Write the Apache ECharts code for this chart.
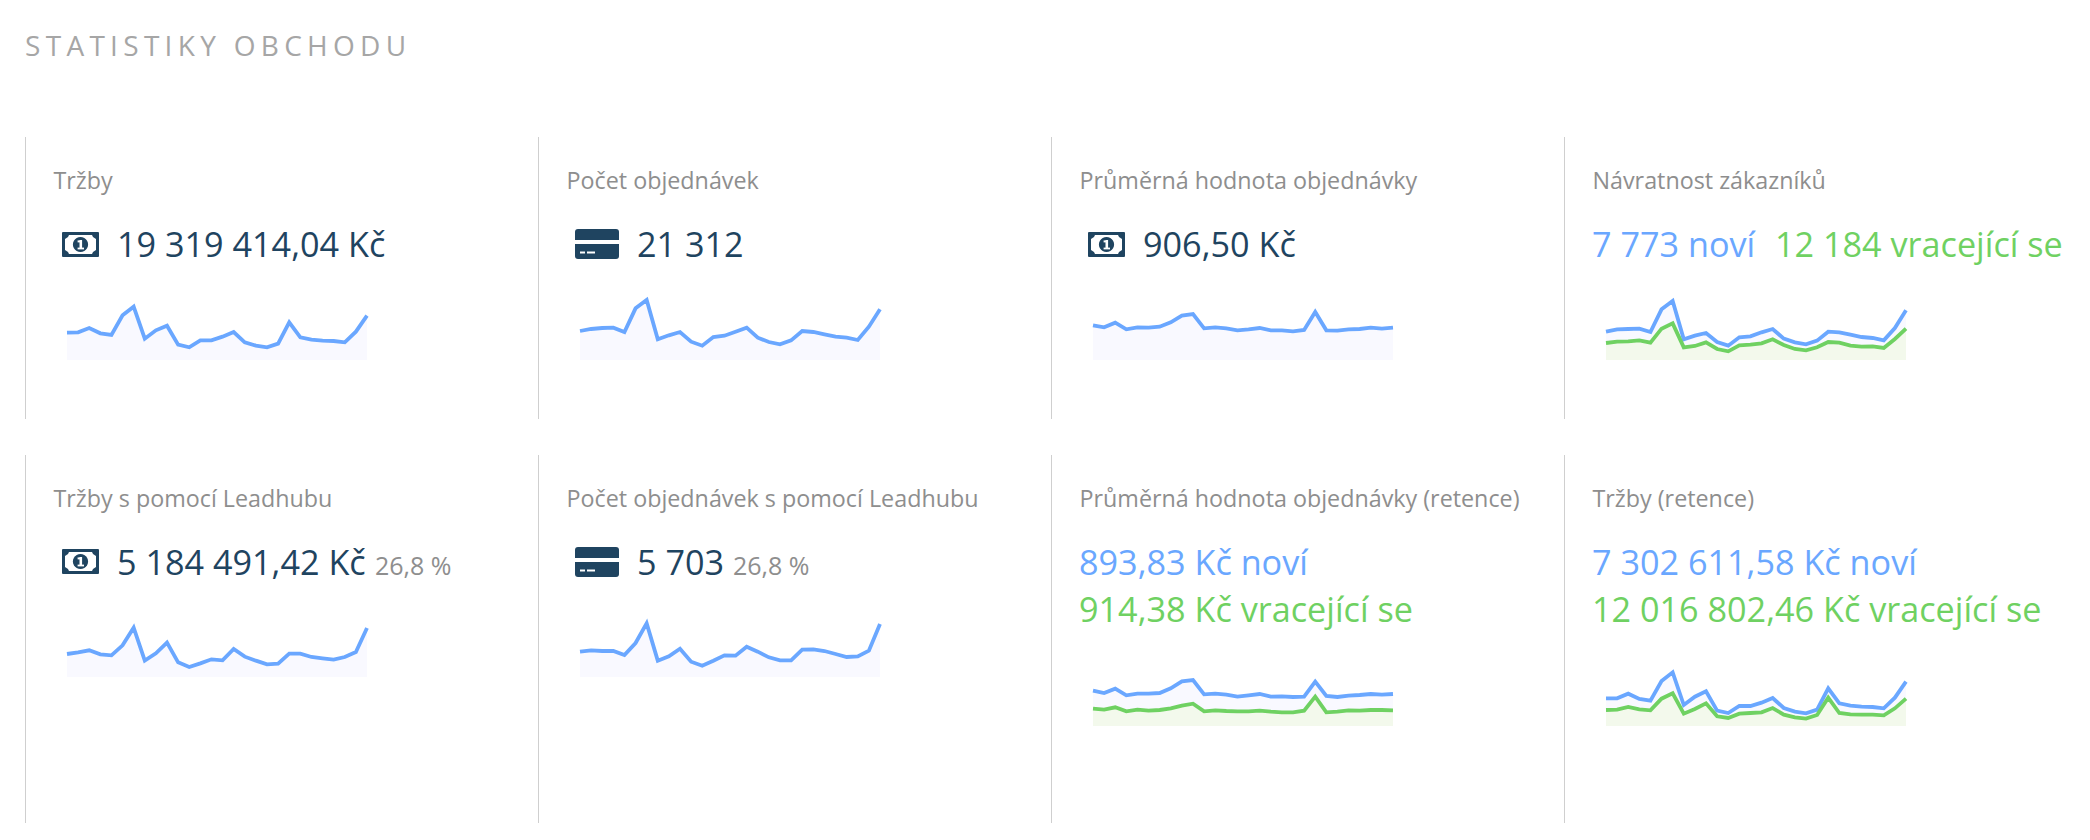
<!DOCTYPE html>
<html lang="cs">
<head>
<meta charset="utf-8">
<title>Statistiky obchodu</title>
<script src="https://cdn.jsdelivr.net/npm/echarts@6/dist/echarts.min.js"></script>
<style>
html,body{margin:0;padding:0;background:#fff;width:2090px;height:840px;overflow:hidden}
#heading{position:absolute;left:25px;top:26px;font:400 28px/38px "Open Sans",sans-serif;letter-spacing:5.3px;color:#a6a6a6;z-index:2}
#chart{position:absolute;left:0;top:0;width:2090px;height:840px}
</style>
</head>
<body>
<div id="heading">STATISTIKY OBCHODU</div>
<div id="chart"></div>
<script>
// Values, in relative units (one unit = 1/3 px of sparkline height).
const days = ["1","2","3","4","5","6","7","8","9","10","11","12","13","14","15","16","17","18","19","20","21","22","23","24","25","26","27","28"];

const trzby = [82,83,96,80,75,134,160,64,89,103,46,38,59,59,70,84,53,43,38,49,113,68,61,58,57,53,85,133];
const pocet = [87,93,96,97,84,155,180,62,74,84,55,43,69,73,85,97,67,54,47,59,87,84,77,70,67,60,100,152];
const prumer = [104,98,112,92,98,97,100,113,133,138,95,98,95,89,92,96,89,89,86,90,144,89,88,92,93,97,94,97];
const navratNovi = [85,92,93,94,84,152,177,62,73,81,54,43,68,71,83,93,64,53,47,58,85,83,76,69,66,59,96,149];
const navratVraceji = [51,55,56,59,52,94,110,38,42,53,33,26,44,46,50,62,45,33,29,38,54,52,43,40,41,36,63,94];
const trzbyLead = [69,74,80,68,65,95,148,49,71,103,44,30,41,53,50,84,61,49,38,40,70,70,60,56,52,60,75,147];
const pocetLead = [76,80,78,78,66,102,161,49,62,85,46,34,49,65,64,91,76,59,50,50,82,83,78,69,60,62,79,159];
const prumerRetNovi = [106,99,112,92,97,97,99,113,134,138,95,97,94,88,92,96,88,89,87,88,133,90,87,91,93,96,94,96];
const prumerRetVraceji = [52,49,56,44,49,46,48,53,61,67,44,47,45,44,44,46,43,41,41,46,88,41,43,47,46,48,48,47];
const trzbyRetNovi = [83,83,97,81,76,135,161,63,88,104,46,39,60,60,70,84,54,43,38,49,113,68,61,58,57,53,85,133];
const trzbyRetVraceji = [48,49,57,50,47,82,98,37,51,68,29,24,37,39,41,54,34,26,22,33,85,39,35,34,34,32,53,82];

const BLUE = '#6aa7ff', GREEN = '#6fd162', DARK = '#1f4460', GREY = '#8e8e8e', RULE = '#cfcfcf';
const FILL_BLUE = '#f9f9ff', FILL_GREEN = '#f3f9ec';
const FONT = '"Open Sans", sans-serif';

const cards = [
  {x:25.5, y0:137,  y1:419, lx:53.5,  ly:180, label:'Tržby', bottom:360, gx:67, series:[trzby]},
  {x:538.5,y0:137,  y1:419, lx:566.5, ly:180, label:'Počet objednávek', bottom:360, gx:580, series:[pocet]},
  {x:1051.5,y0:137, y1:419, lx:1079.5,ly:180, label:'Průměrná hodnota objednávky', bottom:360, gx:1093, series:[prumer]},
  {x:1564.5,y0:137, y1:419, lx:1592.5,ly:180, label:'Návratnost zákazníků', bottom:360, gx:1606, series:[navratNovi, navratVraceji]},
  {x:25.5, y0:455,  y1:823, lx:53.5,  ly:498, label:'Tržby s pomocí Leadhubu', bottom:677, gx:67, series:[trzbyLead]},
  {x:538.5,y0:455,  y1:823, lx:566.5, ly:498, label:'Počet objednávek s pomocí Leadhubu', bottom:677, gx:580, series:[pocetLead]},
  {x:1051.5,y0:455, y1:823, lx:1079.5,ly:498, label:'Průměrná hodnota objednávky (retence)', bottom:726, gx:1093, series:[prumerRetNovi, prumerRetVraceji]},
  {x:1564.5,y0:455, y1:823, lx:1592.5,ly:498, label:'Tržby (retence)', bottom:726, gx:1606, series:[trzbyRetNovi, trzbyRetVraceji]}
];

const values = [
  {x:117,y:243,t:'19 319 414,04 Kč',c:DARK},
  {x:637,y:243,t:'21 312',c:DARK},
  {x:1143,y:243,t:'906,50 Kč',c:DARK},
  {x:1592,y:243,t:'7 773 noví',c:BLUE},
  {x:1775,y:243,t:'12 184 vracející se',c:GREEN},
  {x:117,y:561,t:'5 184 491,42 Kč',c:DARK},
  {x:375,y:565,t:'26,8 %',c:GREY,s:25},
  {x:637,y:561,t:'5 703',c:DARK},
  {x:733,y:565,t:'26,8 %',c:GREY,s:25},
  {x:1079,y:561,t:'893,83 Kč noví',c:BLUE},
  {x:1079,y:608,t:'914,38 Kč vracející se',c:GREEN},
  {x:1592,y:561,t:'7 302 611,58 Kč noví',c:BLUE},
  {x:1592,y:608,t:'12 016 802,46 Kč vracející se',c:GREEN}
];

function money(x, y){
  return {type:'group', x, y, children:[
    {type:'rect', shape:{x:0,y:0,width:37,height:25,r:1}, style:{fill:DARK}},
    {type:'polygon', shape:{points:[[7,3],[30,3],[31,5],[34,7],[34,18],[31,20],[30,22],[7,22],[6,20],[3,18],[3,7],[6,5]]}, style:{fill:'#fff'}},
    {type:'circle', shape:{cx:18.5,cy:12.5,r:7.6}, style:{fill:DARK}},
    {type:'rect', shape:{x:17.5,y:8,width:2.6,height:9}, style:{fill:'#fff'}},
    {type:'rect', shape:{x:15.6,y:8.4,width:3,height:2}, style:{fill:'#fff'}},
    {type:'rect', shape:{x:15.6,y:15.6,width:6.4,height:1.8}, style:{fill:'#fff'}}
  ]};
}
function card(x, y){
  return {type:'group', x, y, children:[
    {type:'rect', shape:{x:0,y:0,width:44,height:11,r:[3,3,0,0]}, style:{fill:DARK}},
    {type:'rect', shape:{x:0,y:15,width:44,height:15,r:[0,0,3,3]}, style:{fill:DARK}},
    {type:'rect', shape:{x:5,y:22.5,width:5,height:2}, style:{fill:'#fff'}},
    {type:'rect', shape:{x:12,y:22.5,width:8,height:2}, style:{fill:'#fff'}}
  ]};
}

const graphic = [];
cards.forEach(c => {
  graphic.push({type:'line', shape:{x1:c.x,y1:c.y0,x2:c.x,y2:c.y1}, style:{stroke:RULE,lineWidth:1}});
  graphic.push({type:'text', x:c.lx, y:c.ly, style:{text:c.label, fill:GREY, font:'400 23.3px '+FONT, textVerticalAlign:'middle'}});
});
values.forEach(v => graphic.push({type:'text', x:v.x, y:v.y, style:{text:v.t, fill:v.c, font:'400 '+(v.s||34.2)+'px '+FONT, textVerticalAlign:'middle'}}));
graphic.push(money(62,232), card(575,229), money(1088,232), money(62,549), card(575,547));

const grid=[], xAxis=[], yAxis=[], series=[];
cards.forEach((c,i) => {
  grid.push({left:c.gx, width:300, top:c.bottom-70, height:70, containLabel:false});
  xAxis.push({type:'category', gridIndex:i, data:days, boundaryGap:false, show:false});
  yAxis.push({type:'value', gridIndex:i, min:0, max:210, show:false});
  c.series.forEach((d,j) => series.push({
    type:'line', xAxisIndex:i, yAxisIndex:i, data:d, symbol:'none', z:2+j, clip:true, animation:false,
    lineStyle:{color:j?GREEN:BLUE, width:3.8, join:'miter'},
    areaStyle:{color:j?FILL_GREEN:FILL_BLUE, opacity:1}
  }));
});

const chart = echarts.init(document.getElementById('chart'), null, {renderer:'svg', width:2090, height:840});
chart.setOption({animation:false, backgroundColor:'transparent', tooltip:{show:false}, grid, xAxis, yAxis, series, graphic});
</script>
</body>
</html>
